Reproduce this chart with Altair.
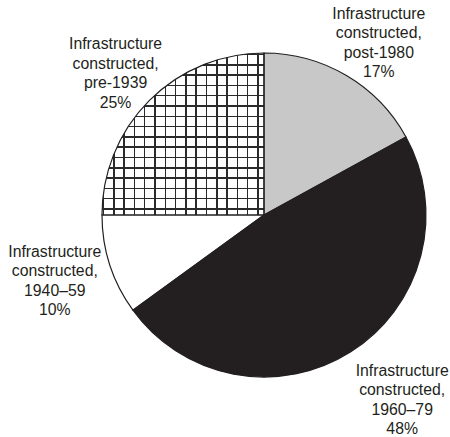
import altair as alt
import pandas as pd

# ---- data ----
categories = ["post-1980", "1960–79", "1940–59", "pre-1939"]
shares = [17, 48, 10, 25]
labels = [
    "Infrastructure\nconstructed,\npost-1980\n17%",
    "Infrastructure\nconstructed,\n1960–79\n48%",
    "Infrastructure\nconstructed,\n1940–59\n10%",
    "Infrastructure\nconstructed,\npre-1939\n25%",
]
order_idx = [0, 1, 2, 3]

df = pd.DataFrame({"cat": categories, "value": shares, "label": labels, "idx": order_idx})

# ---- style ----
INK = "#231f20"
R = 162
fill_colors = ["#c8c8c8", INK, "#ffffff", "#ffffff"]

# crosshatch built from hard-stop gradients (style only)
spacing = 10.3 / R
first = 1 - 6.0 / R
half_w = 0.75 / R
line_pos = []
p = first
while p - half_w > 0:
    line_pos.append(p)
    p -= spacing
line_pos = sorted(line_pos)

def stripe_stops(line_col, bg_col):
    stops = [{"offset": 0, "color": bg_col}]
    for q in line_pos:
        stops += [
            {"offset": round(q - half_w, 5), "color": bg_col},
            {"offset": round(q - half_w, 5), "color": line_col},
            {"offset": round(q + half_w, 5), "color": line_col},
            {"offset": round(q + half_w, 5), "color": bg_col},
        ]
    stops.append({"offset": 1, "color": bg_col})
    return stops

TRANSP = "rgba(255,255,255,0)"
hgrad = {"gradient": "linear", "x1": 0, "x2": 0, "y1": 0, "y2": 1,
         "stops": stripe_stops("#2a2a2a", TRANSP)}
vgrad = {"gradient": "linear", "x1": 0, "x2": 1, "y1": 0, "y2": 0,
         "stops": stripe_stops("#2a2a2a", TRANSP)}

base = alt.Chart(df).encode(
    theta=alt.Theta("value:Q", stack=True),
    order=alt.Order("idx:Q", sort="ascending"),
)

pie = base.mark_arc(radius=R).encode(
    fill=alt.Fill("cat:N", scale=alt.Scale(domain=categories, range=fill_colors), legend=None)
)
is_pre = "datum.cat === 'pre-1939'"
hstripes = base.mark_arc(radius=R).encode(
    fill=alt.condition(is_pre, alt.value(hgrad), alt.value("transparent"))
)
vstripes = base.mark_arc(radius=R).encode(
    fill=alt.condition(is_pre, alt.value(vgrad), alt.value("transparent"))
)
outline = base.mark_arc(radius=R, fillOpacity=0, stroke=INK, strokeWidth=1.2).encode(
    fill=alt.value("#ffffff")
)

LH = 19.5
block_shift = -1.5 * LH
text_offsets = {
    "post-1980": (200, 13, 0),
    "1960–79": (200, 31, 16),
    "1940–59": (200, -19, 4),
    "pre-1939": (200, -7, 0),
}
texts = []
for c in categories:
    rad, dx, dy = text_offsets[c]
    texts.append(
        base.mark_text(
            radius=rad, dx=dx, dy=dy + block_shift, lineBreak="\n", font="Liberation Sans",
            fontSize=15.8, lineHeight=LH, color=INK, align="center", baseline="middle",
        ).encode(
            text=alt.condition(f"datum.cat === '{c}'", alt.Text("label:N"), alt.value(""))
        )
    )

chart = alt.layer(pie, hstripes, vstripes, outline, *texts).properties(
    width=372, height=430,
    autosize="none",
    padding={"left": 78, "top": 0, "right": 0, "bottom": 7},
    background="#ffffff",
).configure_view(strokeWidth=0)

chart.save("out.html", embed_options={"renderer": "svg", "actions": False})
